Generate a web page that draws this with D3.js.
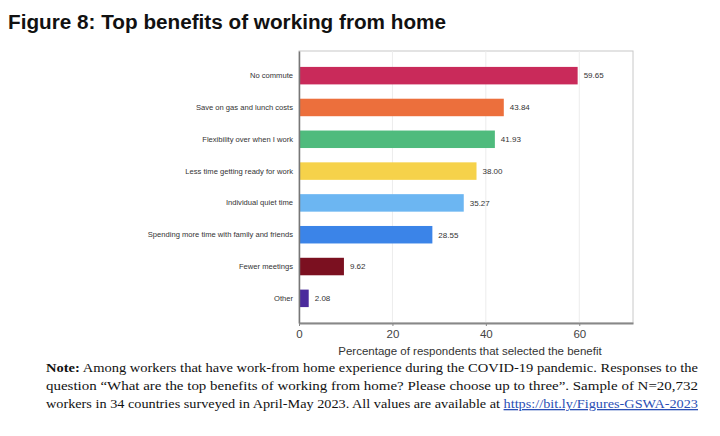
<!DOCTYPE html>
<html>
<head>
<meta charset="utf-8">
<script src="https://cdn.jsdelivr.net/npm/d3@7"></script>
<style>
  body { margin: 0; background: #fff; }
  svg { display: block; }
</style>
</head>
<body>
<div id="chart"></div>
<script>
// data
var benefits = ["No commute", "Save on gas and lunch costs", "Flexibility over when I work",
  "Less time getting ready for work", "Individual quiet time",
  "Spending more time with family and friends", "Fewer meetings", "Other"];
var shares = [59.65, 43.84, 41.93, 38.00, 35.27, 28.55, 9.62, 2.08];
var barColors = ["#c92a5a", "#ec6f3c", "#4fbb7d", "#f6d24a", "#6cb6f2", "#3b84e8", "#7b1020", "#4b2a9c"];
var xTicks = [0, 20, 40, 60];

var svgWidth = 720, svgHeight = 436;
var margin = { top: 51, right: 87, bottom: 113, left: 299 };
var chartWidth = svgWidth - margin.left - margin.right;
var chartHeight = svgHeight - margin.top - margin.bottom;
var sans = "Liberation Sans, Arial, sans-serif";

var svg = d3.select("#chart").append("svg")
  .attr("width", svgWidth)
  .attr("height", svgHeight);

svg.append("text")
  .attr("x", 8).attr("y", 29)
  .attr("font-family", sans)
  .attr("font-weight", "bold")
  .attr("font-size", 20)
  .attr("textLength", 438).attr("lengthAdjust", "spacingAndGlyphs")
  .attr("fill", "#111")
  .text("Figure 8: Top benefits of working from home");

var chartGroup = svg.append("g")
  .attr("transform", `translate(${margin.left}, ${margin.top})`);

var xScale = d3.scaleLinear().domain([0, 71.5]).range([0, chartWidth]);
var yScale = d3.scaleBand().domain(benefits).range([0, chartHeight])
  .paddingInner(0.45).paddingOuter(0.5);

// frame
chartGroup.append("rect")
  .attr("width", chartWidth).attr("height", chartHeight)
  .attr("fill", "none").attr("stroke", "#c8c8c8").attr("stroke-width", 1);

// vertical grid
chartGroup.selectAll(".grid").data(xTicks.slice(1)).enter()
  .append("line")
  .attr("x1", d => xScale(d)).attr("x2", d => xScale(d))
  .attr("y1", 0).attr("y2", chartHeight)
  .attr("stroke", "#ececec");

chartGroup.selectAll(".bar").data(shares).enter()
  .append("rect")
  .attr("x", 0)
  .attr("y", (d, i) => yScale(benefits[i]))
  .attr("width", d => xScale(d))
  .attr("height", yScale.bandwidth())
  .attr("fill", (d, i) => barColors[i]);

chartGroup.selectAll(".val").data(shares).enter()
  .append("text")
  .attr("x", d => xScale(d) + 6)
  .attr("y", (d, i) => yScale(benefits[i]) + yScale.bandwidth() / 2)
  .attr("dy", "0.35em")
  .attr("font-family", sans)
  .attr("font-size", 8)
  .attr("fill", "#333")
  .text(d => d.toFixed(2));

var yAxis = d3.axisLeft(yScale).tickSize(0).tickPadding(6);
var yG = chartGroup.append("g").call(yAxis);
yG.select(".domain").attr("stroke", "#777").attr("stroke-width", 1.5);
yG.selectAll("text")
  .attr("font-family", sans)
  .attr("font-size", 7.6).attr("fill", "#333");

var xAxis = d3.axisBottom(xScale).tickValues(xTicks).tickSize(3).tickPadding(4).tickSizeOuter(0);
var xG = chartGroup.append("g")
  .attr("transform", `translate(0, ${chartHeight})`)
  .call(xAxis);
xG.select(".domain").attr("stroke", "#888").attr("stroke-width", 2);
xG.selectAll(".tick line").attr("stroke", "#888");
xG.selectAll("text")
  .attr("font-family", sans)
  .attr("font-size", 11.5).attr("fill", "#444");

chartGroup.append("text")
  .attr("x", 171).attr("y", chartHeight + 32)
  .attr("text-anchor", "middle")
  .attr("font-family", sans)
  .attr("font-size", 11.5).attr("fill", "#333")
  .text("Percentage of respondents that selected the benefit");

// note below the chart
var noteLines = [
  { bold: "Note:", rest: " Among workers that have work-from home experience during the COVID-19 pandemic. Responses to the" },
  { bold: "", rest: "question \u201cWhat are the top benefits of working from home? Please choose up to three\u201d. Sample of N=20,732" },
  { bold: "", rest: "workers in 34 countries surveyed in April-May 2023. All values are available at ", link: "https://bit.ly/Figures-GSWA-2023" }
];
var note = svg.append("g")
  .attr("font-family", "Liberation Serif, Times New Roman, serif")
  .attr("font-size", 13).attr("fill", "#111");
noteLines.forEach((ln, i) => {
  var t = note.append("text")
    .attr("x", 46).attr("y", 372 + i * 18)
    .attr("textLength", 652).attr("lengthAdjust", "spacingAndGlyphs");
  if (ln.bold) t.append("tspan").attr("font-weight", "bold").text(ln.bold);
  t.append("tspan").text(ln.rest);
  if (ln.link) t.append("tspan").attr("fill", "#2a4fb5").attr("text-decoration", "underline").text(ln.link);
});
</script>
</body>
</html>
